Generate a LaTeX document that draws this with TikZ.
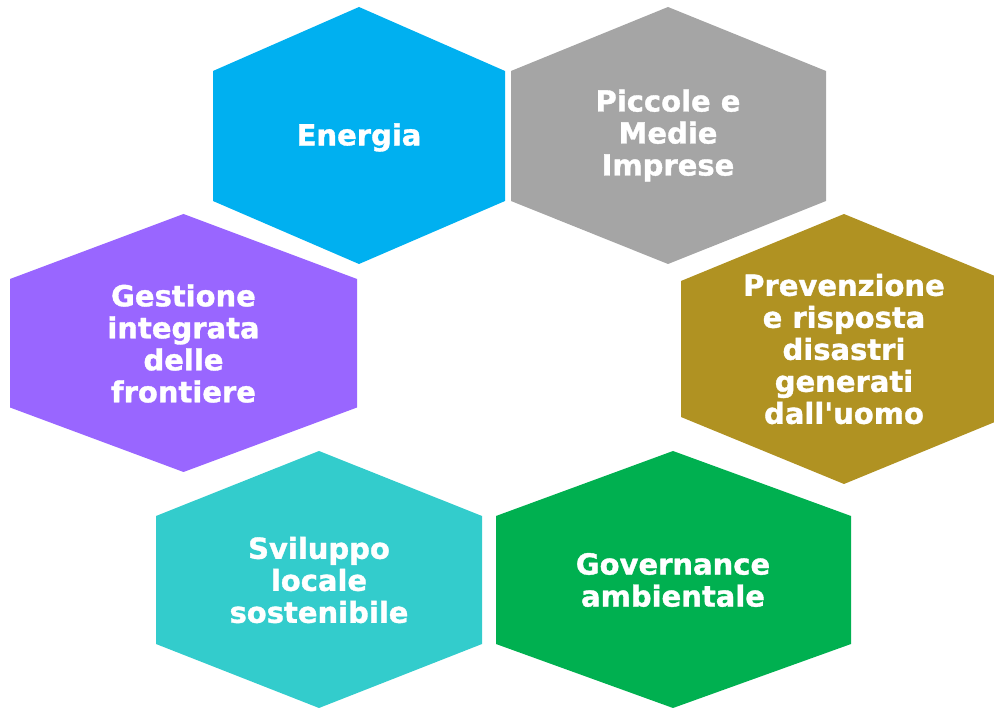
\documentclass[tikz,border=0pt]{standalone}
\usepackage{fontspec}
\setmainfont{DejaVu Sans}[BoldFeatures={FakeBold=1.2}]
\definecolor{cblue}{HTML}{00B0F0}
\definecolor{cgray}{HTML}{A5A5A5}
\definecolor{cpurple}{HTML}{9966FF}
\definecolor{colive}{HTML}{B09222}
\definecolor{cteal}{HTML}{33CCCC}
\definecolor{cgreen}{HTML}{00B050}
\tikzset{
  hexlabel/.style={text=white, align=center, font=\bfseries\fontsize{29}{32}\selectfont, inner sep=0pt},
}
% \hexa{colour}{cx}{top}{sidetop}{sidebottom}{bottom}{left}{right}
\newcommand{\hexa}[8]{\fill[#1] (#2,#3) -- (#8,#4) -- (#8,#5) -- (#2,#6) -- (#7,#5) -- (#7,#4) -- cycle;}
\begin{document}
\begin{tikzpicture}[x=1pt,y=-1pt]
\useasboundingbox (0,0) rectangle (994,708);
\clip (0,0) rectangle (994,708);
\hexa{cblue}{359}{7}{71}{201}{264}{213}{505}
\hexa{cgray}{668}{7}{71}{201}{264}{511}{826}
\hexa{cpurple}{183.5}{214}{279}{407.5}{472}{10}{357}
\hexa{colive}{844}{214}{281}{417}{484}{681}{1007}
\hexa{cteal}{319}{451}{516}{644}{708}{156}{482}
\hexa{cgreen}{673}{451}{516}{644}{708}{496}{851}
\node[hexlabel] (energia) at (359,137.5) {Energia};
\node[hexlabel] (pmi) at (668,135.5) {Piccole e\\Medie\\Imprese};
\node[hexlabel] (gestione) at (183.5,343.5) {Gestione\\integrata\\delle\\frontiere};
\node[hexlabel] (prev) at (844,349) {Prevenzione\\e risposta\\disastri\\generati\\dall\textquotesingle uomo};
\node[hexlabel] (sviluppo) at (319,580) {Sviluppo\\locale\\sostenibile};
\node[hexlabel] (gov) at (673,580) {Governance\\ambientale};
\end{tikzpicture}
\end{document}
